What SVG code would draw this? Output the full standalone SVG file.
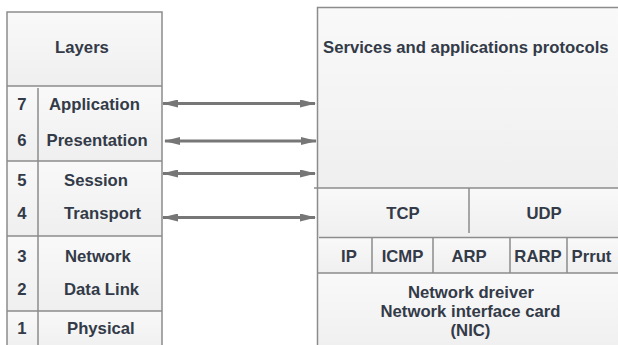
<svg xmlns="http://www.w3.org/2000/svg" width="618" height="345" viewBox="0 0 618 345">
  <defs>
    <linearGradient id="cellFill" x1="0" y1="0" x2="0" y2="1">
      <stop offset="0" stop-color="#f9f9f9"/>
      <stop offset="1" stop-color="#efefef"/>
    </linearGradient>
    <marker id="head" viewBox="0 0 16 8" refX="15" refY="4" markerWidth="16" markerHeight="8" markerUnits="userSpaceOnUse" orient="auto-start-reverse">
      <path d="M0,0 L16,4 L0,8 z" fill="#767676"/>
    </marker>
  </defs>
  <style>
    .cell { fill: url(#cellFill); stroke: none; }
    .rule { stroke: #8c8c8c; stroke-width: 1.5; fill: none; }
    .lbl { font-family: "Liberation Sans", Arial, sans-serif; font-size: 16.7px; font-weight: bold; fill: #333a48; }
    .mid { text-anchor: middle; }
    .link { stroke: #777777; stroke-width: 3; fill: none; marker-start: url(#head); marker-end: url(#head); }
  </style>

  <rect width="618" height="345" fill="#ffffff"/>

  <!-- OSI layer stack -->
  <g id="layers">
    <rect class="cell" x="7" y="12" width="155" height="74"/>
    <rect class="cell" x="7" y="86" width="155" height="75"/>
    <rect class="cell" x="7" y="161" width="155" height="75"/>
    <rect class="cell" x="7" y="236" width="155" height="75"/>
    <rect class="cell" x="7" y="311" width="155" height="40"/>
    <path class="rule" d="M7,350 V12 H162 V350 M7,86 H162 M7,161 H162 M7,236 H162 M7,311 H162 M38,88 V350"/>
    <text class="lbl mid" x="82" y="53">Layers</text>
  </g>

  <g id="layer-7">
    <text class="lbl mid" x="22" y="110">7</text>
    <text class="lbl" x="49" y="110">Application</text>
  </g>
  <g id="layer-6">
    <text class="lbl mid" x="22" y="146">6</text>
    <text class="lbl" x="46.5" y="146">Presentation</text>
  </g>
  <g id="layer-5">
    <text class="lbl mid" x="22" y="186">5</text>
    <text class="lbl" x="64" y="186">Session</text>
  </g>
  <g id="layer-4">
    <text class="lbl mid" x="22" y="219">4</text>
    <text class="lbl" x="64" y="219">Transport</text>
  </g>
  <g id="layer-3">
    <text class="lbl mid" x="22" y="262">3</text>
    <text class="lbl" x="65" y="262">Network</text>
  </g>
  <g id="layer-2">
    <text class="lbl mid" x="22" y="295">2</text>
    <text class="lbl" x="64" y="295">Data Link</text>
  </g>
  <g id="layer-1">
    <text class="lbl mid" x="22" y="334">1</text>
    <text class="lbl" x="67" y="334">Physical</text>
  </g>

  <!-- TCP/IP protocol stack -->
  <g id="stack">
    <rect class="cell" x="318" y="7.5" width="310" height="181"/>
    <rect class="cell" x="318" y="188" width="310" height="50"/>
    <rect class="cell" x="318" y="237.5" width="310" height="35.5"/>
    <rect class="cell" x="318" y="273" width="310" height="80"/>
    <path class="rule" d="M317.5,350 V7.5 H620 M314,188 H620 M469,188 V233 M319,237.5 H620 M372,237.5 V273 M433,237.5 V273 M510,237.5 V273 M567,237.5 V273 M318,273 H620"/>
  </g>

  <g id="services">
    <text class="lbl" x="323" y="53">Services and applications protocols</text>
  </g>
  <g id="tcp">
    <text class="lbl mid" x="403" y="219">TCP</text>
  </g>
  <g id="udp">
    <text class="lbl mid" x="544" y="219">UDP</text>
  </g>
  <g id="ip">
    <text class="lbl mid" x="349" y="262">IP</text>
  </g>
  <g id="icmp">
    <text class="lbl mid" x="402.5" y="262">ICMP</text>
  </g>
  <g id="arp">
    <text class="lbl mid" x="469" y="262">ARP</text>
  </g>
  <g id="rarp">
    <text class="lbl mid" x="538" y="262">RARP</text>
  </g>
  <g id="prrut">
    <text class="lbl mid" x="591.5" y="262">Prrut</text>
  </g>
  <g id="nic">
    <text class="lbl mid" x="471" y="298">Network dreiver</text>
    <text class="lbl mid" x="470.5" y="317">Network interface card</text>
    <text class="lbl mid" x="470.5" y="336">(NIC)</text>
  </g>

  <!-- layer-to-protocol mappings -->
  <g id="connectors">
    <path class="link" d="M163,103.5 H315"/>
    <path class="link" d="M165,141 H316"/>
    <path class="link" d="M163,173.5 H315"/>
    <path class="link" d="M163,217.5 H315"/>
  </g>
</svg>
